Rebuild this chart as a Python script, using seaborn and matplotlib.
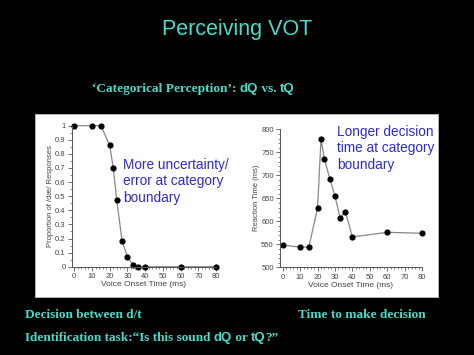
import matplotlib
matplotlib.use("Agg")
import matplotlib.pyplot as plt
from matplotlib.patches import Rectangle
from matplotlib.ticker import MultipleLocator
import seaborn as sns
import pandas as pd

# ---- data ----
vot_ms = [0, 10, 15, 20, 22, 24, 27, 30, 33, 36, 40, 60, 80]
prop_dae = [1.0, 1.0, 1.0, 0.86, 0.70, 0.47, 0.18, 0.07, 0.015, 0.0, 0.0, 0.0, 0.0]
reaction_ms = [548, 544, 544, 628, 778, 735, 693, 655, 607, 621, 566, 576, 574]

x_ticks = [0, 10, 20, 30, 40, 50, 60, 70, 80]
left_yticks = [0, 0.1, 0.2, 0.3, 0.4, 0.5, 0.6, 0.7, 0.8, 0.9, 1]
left_yticklabels = ["0", "0.1", "0.2", "0.3", "0.4", "0.5", "0.6", "0.7", "0.8", "0.9", "1"]
right_yticks = [500, 550, 600, 650, 700, 750, 800]

title = "Perceiving VOT"
xlabel = "Voice Onset Time (ms)"
left_ylabel = "Proportion of /dæ/ Responses"
right_ylabel = "Reaction Time (ms)"
left_note = "More uncertainty/\nerror at category\nboundary"
right_note = "Longer decision\ntime at category\nboundary"

df = pd.DataFrame({"vot": vot_ms, "prop": prop_dae, "rt": reaction_ms})

sns.set_theme(style="ticks")
plt.rcParams["font.family"] = ["Liberation Sans", "DejaVu Sans"]

W, H = 474, 355
fig = plt.figure(figsize=(W / 100, H / 100), dpi=100)
fig.patch.set_facecolor("black")

# white panel
fig.add_artist(Rectangle((35 / W, 1 - 297 / H), 403 / W, 183 / H,
                         transform=fig.transFigure, facecolor="white",
                         edgecolor="#bbbbbb", lw=0.6, zorder=0))

cyan = "#45dccb"
blue = "#2b2bd6"
axcol = "#555555"

fig.text(237 / W, 1 - 30 / H, title, color=cyan, fontsize=15.5,
         ha="center", va="center")

fig.canvas.draw()
r = fig.canvas.get_renderer()


def mixed(x0, y0, parts, size):
    x = x0
    for s, fam in parts:
        tt = fig.text(x, y0, s, color=cyan, fontsize=size, fontweight="bold",
                      family=fam, ha="left", va="center")
        x = tt.get_window_extent(r).x1 / fig.bbox.width


serif = ["Liberation Serif"]
sans = ["Liberation Sans"]
mixed(92 / W, 1 - 89 / H,
      [("\u2018Categorical Perception\u2019: ", serif), ("dQ", sans),
       (" vs. ", serif), ("tQ", sans)], 9.6)


def style_axes(ax):
    ax.set_facecolor("white")
    for side in ["top", "right"]:
        ax.spines[side].set_visible(False)
    for side in ["left", "bottom"]:
        ax.spines[side].set_color(axcol)
        ax.spines[side].set_linewidth(0.7)
    ax.tick_params(which="major", length=3, width=0.6, color=axcol,
                   labelsize=5.5, labelcolor="#444444", pad=1.5)
    ax.tick_params(which="minor", length=1.5, width=0.5, color=axcol)
    ax.xaxis.set_minor_locator(MultipleLocator(2))
    ax.set_xlabel(xlabel, fontsize=6, color="#444444", labelpad=1)


# left plot
ax1 = fig.add_axes([71.7 / W, 1 - 266.7 / H, 144.3 / W, 141 / H])
sns.lineplot(data=df, x="vot", y="prop", ax=ax1, color="#888888", lw=0.9,
             marker="o", markersize=3.7, markerfacecolor="black",
             markeredgecolor="black")
ax1.set_xlim(-1.47, 80)
ax1.set_ylim(0, 1)
ax1.set_xticks(x_ticks)
ax1.set_yticks(left_yticks)
ax1.set_yticklabels(left_yticklabels)
ax1.yaxis.set_minor_locator(MultipleLocator(0.05))
style_axes(ax1)
ax1.set_ylabel(left_ylabel, fontsize=5.5, color="#444444", labelpad=1)
for ln in ax1.lines:
    ln.set_clip_on(False)
ax1.text(123 / W, 1 - 158 / H, left_note, transform=fig.transFigure,
         color=blue, fontsize=9.8, ha="left", va="top", linespacing=1.22)

# right plot
ax2 = fig.add_axes([280 / W, 1 - 267.3 / H, 142 / W, 138 / H])
sns.lineplot(data=df, x="vot", y="rt", ax=ax2, color="#888888", lw=0.9,
             marker="o", markersize=3.7, markerfacecolor="black",
             markeredgecolor="black")
ax2.set_xlim(-1.55, 80)
ax2.set_ylim(500, 800)
ax2.set_xticks(x_ticks)
ax2.set_yticks(right_yticks)
ax2.yaxis.set_minor_locator(MultipleLocator(10))
style_axes(ax2)
ax2.set_ylabel(right_ylabel, fontsize=5.5, color="#444444", labelpad=1)
for ln in ax2.lines:
    ln.set_clip_on(False)
ax2.text(337 / W, 1 - 125 / H, right_note, transform=fig.transFigure,
         color=blue, fontsize=9.8, ha="left", va="top", linespacing=1.22)

# bottom text
mixed(25 / W, 1 - 315 / H, [("Decision between d/t", serif)], 9.5)
mixed(298 / W, 1 - 315 / H, [("Time to make decision", serif)], 9.5)
mixed(25 / W, 1 - 338 / H,
      [("Identification task:\u201cIs this sound ", serif), ("dQ", sans),
       (" or ", serif), ("tQ", sans), ("?\u201d", serif)], 9.5)

fig.savefig("out.png", dpi=100, facecolor="black")
